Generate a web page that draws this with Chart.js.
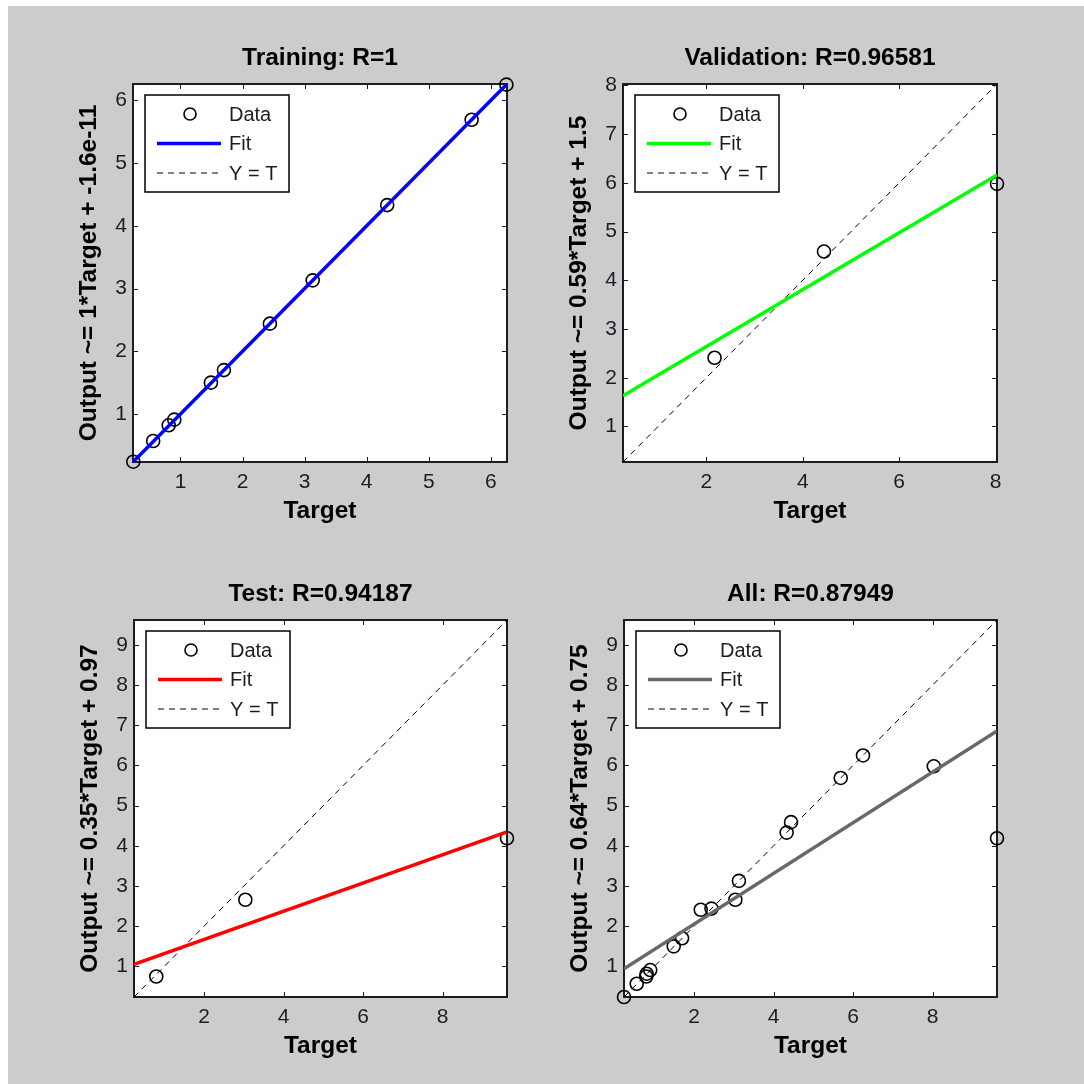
<!DOCTYPE html>
<html>
<head>
<meta charset="utf-8">
<script src="https://cdn.jsdelivr.net/npm/chart.js@4.4.1/dist/chart.umd.min.js"></script>
<style>
  body { margin: 0; background: #fff; width: 1084px; height: 1084px; overflow: hidden; }
  #bg { position: absolute; left: 8px; top: 6px; width: 1076px; height: 1078px; background: #cccccc; }
  canvas { position: absolute; }
</style>
</head>
<body>
<div id="bg"></div>
<canvas id="train" width="542" height="542" style="left:0px;top:0px"></canvas>
<canvas id="val" width="542" height="542" style="left:542px;top:0px"></canvas>
<canvas id="test" width="542" height="542" style="left:0px;top:542px"></canvas>
<canvas id="all" width="542" height="542" style="left:542px;top:542px"></canvas>
<script>
// Training set
let trainTarget = [0.24, 0.56, 0.81, 0.90, 1.49, 1.70, 2.44, 3.13, 4.33, 5.69, 6.25];
let trainOutput = [0.24, 0.57, 0.82, 0.91, 1.50, 1.70, 2.44, 3.13, 4.33, 5.69, 6.25];
let trainFitX = [0.235, 6.26];
let trainFitY = [0.235, 6.26];
let trainLim = [0.235, 6.26];
let trainXTicks = [1, 2, 3, 4, 5, 6];
let trainYTicks = [1, 2, 3, 4, 5, 6];

// Validation set
let valTarget = [2.17, 4.44, 8.03];
let valOutput = [2.41, 4.59, 5.98];
let valFitX = [0.27, 8.03];
let valFitY = [1.63, 6.16];
let valLim = [0.27, 8.03];
let valXTicks = [2, 4, 6, 8];
let valYTicks = [1, 2, 3, 4, 5, 6, 7, 8];

// Test set
let testTarget = [0.80, 3.04, 9.62];
let testOutput = [0.75, 2.66, 4.19];
let testFitX = [0.24, 9.62];
let testFitY = [1.05, 4.35];
let testLim = [0.24, 9.62];
let testXTicks = [2, 4, 6, 8];
let testYTicks = [1, 2, 3, 4, 5, 6, 7, 8, 9];

// All data
let allTarget = trainTarget.concat(valTarget, testTarget);
let allOutput = trainOutput.concat(valOutput, testOutput);
let allFitX = [0.24, 9.62];
let allFitY = [0.94, 6.86];
let allLim = [0.24, 9.62];
let allXTicks = [2, 4, 6, 8];
let allYTicks = [1, 2, 3, 4, 5, 6, 7, 8, 9];

const FONT = '"Liberation Sans", Arial, sans-serif';
const INK = '#1c1c24';

function toPoints(xs, ys) {
    return xs.map((x, i) => ({ x: x, y: ys[i] }));
}

// draws white plot area, box, tick marks, titles and the inside legend
function framePlugin(title, ylabel) {
    return {
        id: 'frame',
        beforeDatasetsDraw(chart) {
            let ctx = chart.ctx, a = chart.chartArea;
            ctx.save();
            ctx.fillStyle = '#fff';
            ctx.fillRect(a.left, a.top, a.right - a.left, a.bottom - a.top);
            ctx.strokeStyle = INK;
            ctx.lineWidth = 1;
            let xs = chart.scales.x, ys = chart.scales.y;
            ctx.beginPath();
            xs.ticks.forEach(t => {
                let px = Math.round(xs.getPixelForValue(t.value)) + 0.5;
                ctx.moveTo(px, a.bottom); ctx.lineTo(px, a.bottom - 5);
                ctx.moveTo(px, a.top); ctx.lineTo(px, a.top + 5);
            });
            ys.ticks.forEach(t => {
                let py = Math.round(ys.getPixelForValue(t.value)) + 0.5;
                ctx.moveTo(a.left, py); ctx.lineTo(a.left + 5, py);
                ctx.moveTo(a.right, py); ctx.lineTo(a.right - 5, py);
            });
            ctx.stroke();
            ctx.lineWidth = 2;
            ctx.strokeRect(a.left, a.top, a.right - a.left, a.bottom - a.top);
            ctx.restore();
        },
        afterDraw(chart) {
            let ctx = chart.ctx, a = chart.chartArea;
            let cx = (a.left + a.right) / 2, cy = (a.top + a.bottom) / 2;
            ctx.save();
            ctx.fillStyle = '#000';
            ctx.font = 'bold 24.5px ' + FONT;
            ctx.textAlign = 'center';
            ctx.textBaseline = 'alphabetic';
            ctx.fillText(title, cx, a.top - 19.5);
            ctx.fillText('Target', cx, a.bottom + 55.5);
            ctx.save();
            ctx.translate(a.left - 37, cy);
            ctx.rotate(-Math.PI / 2);
            ctx.fillText(ylabel, 0, 0);
            ctx.restore();

            // legend box, entries in dataset order: Data, Fit, Y = T
            let lx = a.left + 12, ly = a.top + 11, lw = 144, lh = 97;
            ctx.fillStyle = '#fff';
            ctx.fillRect(lx, ly, lw, lh);
            ctx.strokeStyle = '#000';
            ctx.lineWidth = 1.5;
            ctx.strokeRect(lx, ly, lw, lh);
            ctx.font = '20px ' + FONT;
            ctx.textAlign = 'left';
            ctx.textBaseline = 'middle';
            chart.data.datasets.forEach((ds, i) => {
                let ry = ly + 19 + i * 29.5;
                if (ds.showLine) {
                    ctx.beginPath();
                    ctx.strokeStyle = ds.borderColor;
                    ctx.lineWidth = ds.borderWidth;
                    ctx.setLineDash(ds.borderDash || []);
                    ctx.moveTo(lx + 12, ry); ctx.lineTo(lx + 76, ry);
                    ctx.stroke();
                    ctx.setLineDash([]);
                } else {
                    ctx.beginPath();
                    ctx.strokeStyle = '#000';
                    ctx.lineWidth = 1.6;
                    ctx.arc(lx + 45, ry, 6, 0, Math.PI * 2);
                    ctx.stroke();
                }
                ctx.fillStyle = INK;
                ctx.fillText(ds.label, lx + 84, ry + 1);
            });
            ctx.restore();
        }
    };
}

function makePanel(id, box, opt) {
    let ctx = document.getElementById(id).getContext('2d');
    let lim = opt.lim;
    let tickFont = { family: FONT, size: 21 };
    return new Chart(ctx, {
        type: 'scatter',
        data: {
            datasets: [
                {
                    label: 'Data',
                    data: toPoints(opt.target, opt.output),
                    order: 3,
                    showLine: false,
                    pointRadius: 6.5,
                    pointBorderWidth: 1.6,
                    pointBorderColor: '#000',
                    pointBackgroundColor: 'rgba(0,0,0,0)',
                    clip: false
                },
                {
                    label: 'Fit',
                    data: toPoints(opt.fitX, opt.fitY),
                    order: 1,
                    showLine: true,
                    borderColor: opt.color,
                    borderWidth: 3.5,
                    pointRadius: 0
                },
                {
                    label: 'Y = T',
                    data: toPoints(lim, lim),
                    order: 2,
                    showLine: true,
                    borderColor: '#000',
                    borderWidth: 1,
                    borderDash: [6, 5],
                    pointRadius: 0
                }
            ]
        },
        options: {
            responsive: false,
            animation: false,
            devicePixelRatio: 1,
            layout: { padding: { left: 0, top: box.top, right: 542 - box.right, bottom: 542 - box.bottom - 40 } },
            scales: {
                x: {
                    type: 'linear',
                    min: lim[0], max: lim[1],
                    afterFit: s => { s.height = 40; },
                    afterBuildTicks: s => { s.ticks = opt.xTicks.map(v => ({ value: v })); },
                    grid: { display: false, drawTicks: false },
                    border: { display: false },
                    ticks: { font: tickFont, color: INK, padding: 8, maxRotation: 0, autoSkip: false }
                },
                y: {
                    type: 'linear',
                    min: lim[0], max: lim[1],
                    afterFit: s => { s.width = box.left; },
                    afterBuildTicks: s => { s.ticks = opt.yTicks.map(v => ({ value: v })); },
                    grid: { display: false, drawTicks: false },
                    border: { display: false },
                    ticks: { font: tickFont, color: INK, padding: 6, autoSkip: false }
                }
            },
            plugins: {
                legend: { display: false },
                tooltip: { enabled: false }
            }
        },
        plugins: [framePlugin(opt.title, opt.ylabel)]
    });
}

makePanel('train', { left: 133, right: 507, top: 84, bottom: 462 }, {
    target: trainTarget, output: trainOutput, fitX: trainFitX, fitY: trainFitY,
    lim: trainLim, xTicks: trainXTicks, yTicks: trainYTicks, color: '#0000ff',
    title: 'Training: R=1', ylabel: 'Output ~= 1*Target + -1.6e-11'
});
makePanel('val', { left: 81, right: 455, top: 84, bottom: 462 }, {
    target: valTarget, output: valOutput, fitX: valFitX, fitY: valFitY,
    lim: valLim, xTicks: valXTicks, yTicks: valYTicks, color: '#00ff00',
    title: 'Validation: R=0.96581', ylabel: 'Output ~= 0.59*Target + 1.5'
});
makePanel('test', { left: 134, right: 507, top: 78, bottom: 455 }, {
    target: testTarget, output: testOutput, fitX: testFitX, fitY: testFitY,
    lim: testLim, xTicks: testXTicks, yTicks: testYTicks, color: '#ff0000',
    title: 'Test: R=0.94187', ylabel: 'Output ~= 0.35*Target + 0.97'
});
makePanel('all', { left: 82, right: 455, top: 78, bottom: 455 }, {
    target: allTarget, output: allOutput, fitX: allFitX, fitY: allFitY,
    lim: allLim, xTicks: allXTicks, yTicks: allYTicks, color: '#686868',
    title: 'All: R=0.87949', ylabel: 'Output ~= 0.64*Target + 0.75'
});
</script>
</body>
</html>
